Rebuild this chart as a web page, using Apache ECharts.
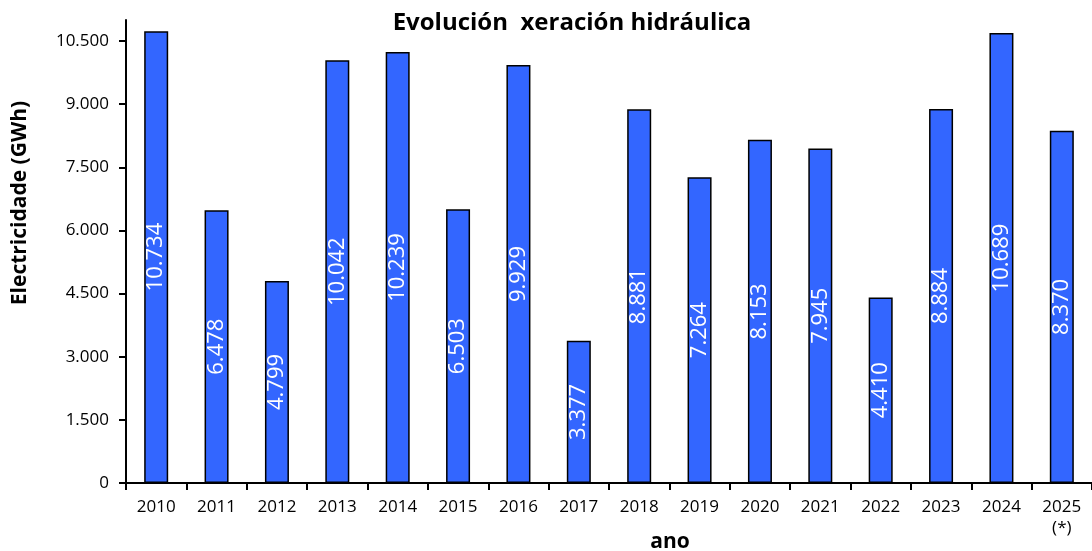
<!DOCTYPE html>
<html>
<head>
<meta charset="utf-8">
<script src="https://cdn.jsdelivr.net/npm/echarts@6/dist/echarts.min.js"></script>
<style>
  html, body { margin: 0; padding: 0; background: #fff; }
  #chart { width: 1092px; height: 551px; }
</style>
</head>
<body>
<div id="chart"></div>
<script>
// datos
const years = ["2010", "2011", "2012", "2013", "2014", "2015", "2016", "2017",
  "2018", "2019", "2020", "2021", "2022", "2023", "2024", "2025\n(*)"];
const hydro = [10734, 6478, 4799, 10042, 10239, 6503, 9929, 3377,
  8881, 7264, 8153, 7945, 4410, 8884, 10689, 8370];
const yTicks = [0, 1500, 3000, 4500, 6000, 7500, 9000, 10500];

const font = "Open Sans";
const fmt = (v) => String(v).replace(/\B(?=(\d{3})+(?!\d))/g, ".");

const myChart = echarts.init(document.getElementById("chart"));

let options = {
  animation: false,
  textStyle: { fontFamily: font },
  title: {
    text: "Evolución  xeración hidráulica",
    left: 567,
    textAlign: "center",
    top: 6,
    textStyle: { fontSize: 24, fontWeight: "bold", color: "#000", fontFamily: font },
  },
  grid: {
    left: 126,
    top: 20,
    width: 975,
    height: 463,
  },
  xAxis: {
    type: "category",
    data: years,
    axisLine: { lineStyle: { color: "#000", width: 2 } },
    axisTick: { show: true, length: 7, lineStyle: { color: "#000", width: 2 } },
    axisLabel: { color: "#000", fontSize: 17, margin: 14, lineHeight: 21, interval: 0 },
  },
  yAxis: {
    type: "value",
    min: 0,
    max: 11000,
    interval: 1500,
    splitLine: { show: false },
    axisLine: { show: true, lineStyle: { color: "#000", width: 2 } },
    axisTick: { show: true, length: 7, customValues: yTicks, lineStyle: { color: "#000", width: 2 } },
    axisLabel: { color: "#000", fontSize: 17, margin: 17, customValues: yTicks, formatter: fmt },
  },
  // titulos de eixo
  graphic: [
    {
      type: "text",
      x: 20,
      y: 203,
      rotation: Math.PI / 2,
      style: {
        text: "Electricidade (GWh)",
        fontSize: 21,
        fontWeight: "bold",
        fontFamily: font,
        fill: "#000",
        align: "center",
        verticalAlign: "middle",
      },
    },
    {
      type: "text",
      x: 670,
      y: 542,
      style: {
        text: "ano",
        fontSize: 21,
        fontWeight: "bold",
        fontFamily: font,
        fill: "#000",
        align: "center",
        verticalAlign: "middle",
      },
    },
  ],
  series: [
    {
      type: "bar",
      data: hydro,
      barWidth: 24,
      itemStyle: { color: "#3366FF", borderColor: "#000", borderWidth: 1.5 },
      label: {
        show: true,
        position: "inside",
        rotate: 90,
        color: "#fff",
        fontSize: 22,
        fontFamily: font,
        formatter: (p) => fmt(p.value),
      },
    },
  ],
};

myChart.setOption(options);
</script>
</body>
</html>
